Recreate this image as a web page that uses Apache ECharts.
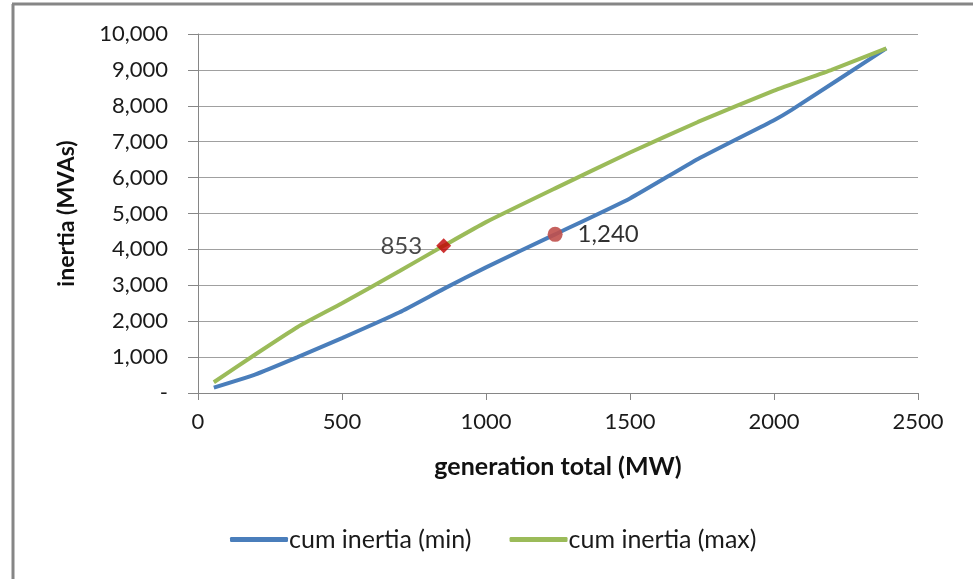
<!DOCTYPE html>
<html>
<head>
<meta charset="utf-8">
<script src="https://cdn.jsdelivr.net/npm/echarts@6/dist/echarts.min.js"></script>
<style>
html,body{margin:0;padding:0;background:#fff;}
#main{width:973px;height:579px;}
</style>
</head>
<body>
<div id="main"></div>
<script>
// Data
var minName = 'cum inertia (min)';
var maxName = 'cum inertia (max)';
var minX = [55, 200, 346, 500, 700, 853, 1000, 1240, 1500, 1736, 2000, 2060, 2390];
var minY = [150, 520, 1000, 1530, 2250, 2900, 3500, 4420, 5420, 6520, 7600, 7880, 9600];
var maxX = [55, 200, 346, 500, 700, 853, 1000, 1240, 1500, 1736, 2000, 2200, 2390];
var maxY = [300, 1080, 1840, 2500, 3400, 4100, 4760, 5700, 6700, 7550, 8420, 9000, 9600];
var markMax = [853, 4100];   // diamond on max curve
var markMin = [1240, 4420];  // circle on min curve
var xTitle = 'generation total (MW)';
var yTitle = 'inertia (MVAs)';

function zip(xs, ys) { return xs.map(function (x, i) { return [x, ys[i]]; }); }
function fmtNum(v) { return v === 0 ? '-' : v.toLocaleString('en-US'); }

var FONT = 'Lato';
var chart = echarts.init(document.getElementById('main'));
chart.setOption({
  animation: false,
  backgroundColor: '#ffffff',
  textStyle: { fontFamily: FONT, color: '#1a1a1a' },
  grid: { left: 198, right: 55, top: 34, bottom: 186 },
  graphic: [
    { type: 'line', shape: { x1: 13, y1: 4, x2: 13, y2: 579 }, style: { stroke: '#868686', lineWidth: 3 } },
    { type: 'line', shape: { x1: 12, y1: 4, x2: 973, y2: 4 }, style: { stroke: '#868686', lineWidth: 3 } }
  ],
  xAxis: {
    type: 'value', min: 0, max: 2500, interval: 500,
    name: xTitle, nameLocation: 'middle', nameGap: 61,
    nameTextStyle: { fontFamily: FONT, fontSize: 25, fontWeight: 'bold', color: '#111' },
    axisLine: { show: true, onZero: false, lineStyle: { color: '#868686', width: 1 } },
    axisTick: { show: true, length: 7, lineStyle: { color: '#868686' } },
    axisLabel: { margin: 18, fontSize: 22, color: '#1a1a1a', fontFamily: FONT, formatter: function (v) { return String(v); } },
    splitLine: { show: false }
  },
  yAxis: {
    type: 'value', min: 0, max: 10000, interval: 1000,
    name: yTitle, nameLocation: 'middle', nameGap: 120, nameRotate: 90,
    nameTextStyle: { fontFamily: FONT, fontSize: 23, fontWeight: 'bold', color: '#111' },
    axisLine: { show: true, lineStyle: { color: '#868686', width: 1 } },
    axisTick: { show: true, length: 10, lineStyle: { color: '#868686' } },
    axisLabel: { margin: 30, fontSize: 22, color: '#1a1a1a', fontFamily: FONT, formatter: fmtNum },
    splitLine: { show: true, lineStyle: { color: '#a0a0a0', width: 1 } }
  },
  legend: {
    data: [minName, maxName],
    bottom: 22, left: 225,
    icon: 'roundRect',
    itemWidth: 58, itemHeight: 5, itemGap: 38,
    textStyle: { fontFamily: FONT, fontSize: 25, color: '#1a1a1a', padding: [0, 0, 0, -4] }
  },
  series: [
    {
      name: minName, type: 'line', data: zip(minX, minY), symbol: 'none', smooth: 0.15,
      lineStyle: { color: '#4a7ebb', width: 4 }, itemStyle: { color: '#4a7ebb' }, z: 2
    },
    {
      name: maxName, type: 'line', data: zip(maxX, maxY), symbol: 'none', smooth: 0.15,
      lineStyle: { color: '#9bbb59', width: 4 }, itemStyle: { color: '#9bbb59' }, z: 3
    },
    {
      name: 'markMax', type: 'scatter', data: [markMax], symbol: 'diamond', symbolSize: 15, z: 5,
      itemStyle: { color: '#c00000' },
      label: { show: true, position: 'left', distance: 14, fontFamily: FONT, fontSize: 24, color: '#1a1a1a',
        formatter: function (p) { return p.value[0].toLocaleString('en-US'); } }
    },
    {
      name: 'markMin', type: 'scatter', data: [markMin], symbol: 'circle', symbolSize: 15, z: 5,
      itemStyle: { color: '#c0504d', opacity: 0.9 },
      label: { show: true, position: 'right', distance: 15, fontFamily: FONT, fontSize: 24, color: '#1a1a1a',
        formatter: function (p) { return p.value[0].toLocaleString('en-US'); } }
    }
  ]
});
</script>
</body>
</html>
